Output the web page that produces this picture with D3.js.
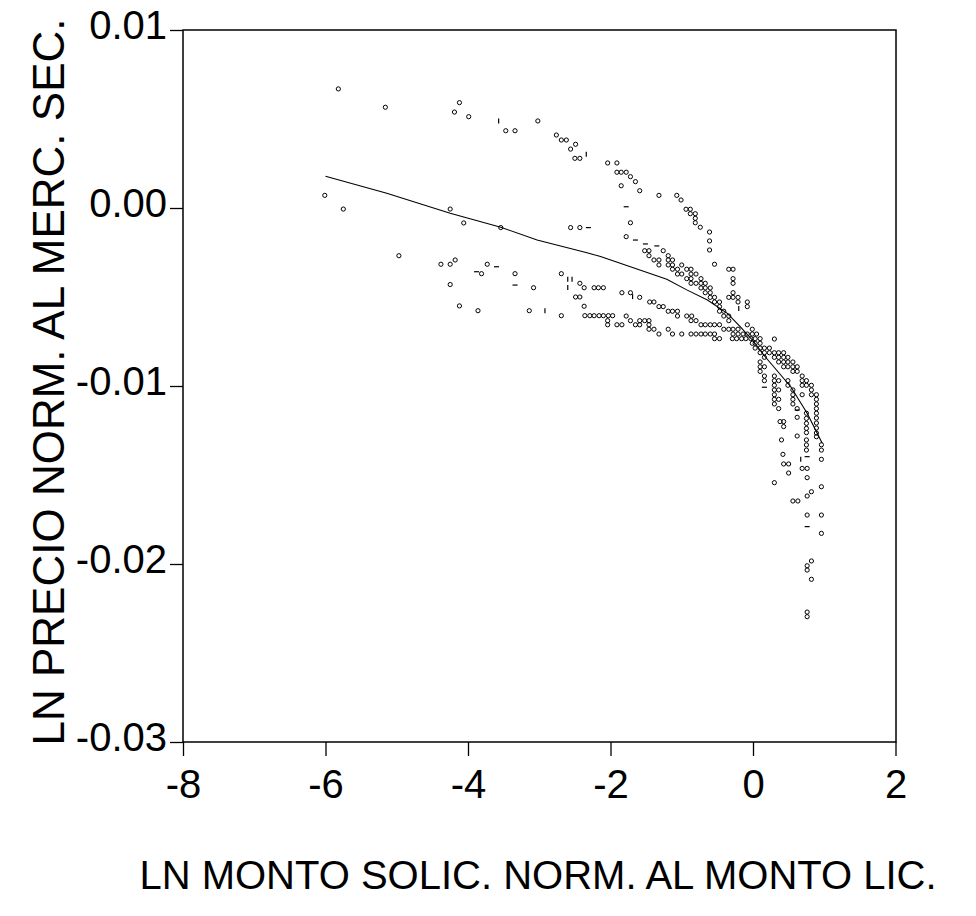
<!DOCTYPE html>
<html lang="es">
<head>
<meta charset="UTF-8">
<title>LN precio vs LN monto</title>
<script src="https://cdn.jsdelivr.net/npm/d3@7"></script>
<style>
    body { margin: 0; background: #fff; }
    text.tick-label { font-family: "Liberation Sans", Arial, sans-serif; font-size: 40px; fill: #000; }
    text.axis-title { font-family: "Liberation Sans", Arial, sans-serif; font-size: 40px; fill: #000; }
    text.axis-title-y { font-family: "Liberation Sans", Arial, sans-serif; font-size: 44px; fill: #000; }
</style>
</head>
<body>
<div id="chart"></div>
<script>
// axis ticks
var xTicks = [-8, -6, -4, -2, 0, 2];
var xTickLabels = ["-8", "-6", "-4", "-2", "0", "2"];
var yTicks = [0.01, 0.00, -0.01, -0.02, -0.03];
var yTickLabels = ["0.01", "0.00", "-0.01", "-0.02", "-0.03"];

var xTitle = "LN MONTO SOLIC. NORM. AL MONTO LIC.";
var yTitle = "LN PRECIO NORM. AL MERC. SEC.";

// observations [ln monto, ln precio]
var upperBand = [
    [-6.01, 0.00071], [-5.82, 0.00669], [-5.75, -0.00006], [-5.16, 0.00566],
    [-4.19, 0.00539], [-4.12, 0.00592], [-3.99, 0.00513], [-3.47, 0.00434],
    [-3.34, 0.00434], [-3.02, 0.00489], [-2.76, 0.0041], [-2.69, 0.00382],
    [-2.62, 0.00382], [-2.49, 0.00358], [-2.56, 0.00331], [-2.50, 0.00279],
    [-2.43, 0.00279], [-2.04, 0.00253], [-1.91, 0.00253], [-1.91, 0.00201],
    [-1.85, 0.00201], [-1.78, 0.00201], [-1.72, 0.00176], [-1.65, 0.00148],
    [-1.85, 0.00125], [-1.59, 0.00097], [-1.32, 0.00071], [-1.07, 0.00071],
    [-1.01, 0.00045], [-0.94, -0.00007], [-0.88, -0.00007], [-0.88, -0.00032],
    [-0.81, -0.00032], [-0.81, -0.00058], [-0.81, -0.00083], [-0.74, -0.00108],
    [-0.61, -0.00135], [-0.61, -0.00185], [-0.61, -0.00236], [-0.54, -0.00316]
];

var lowerLeft = [
    [-4.25, -0.00006], [-4.06, -0.00084], [-3.54, -0.0011], [-2.56, -0.0011],
    [-2.43, -0.0011], [-1.72, -0.00083], [-1.78, -0.00161], [-4.97, -0.00268],
    [-4.38, -0.00316], [-4.25, -0.00316], [-4.18, -0.00292], [-4.25, -0.0043],
    [-4.12, -0.0055], [-3.86, -0.00577], [-3.73, -0.00316], [-3.81, -0.00369],
    [-3.34, -0.00369], [-3.08, -0.00448], [-3.14, -0.00577], [-2.69, -0.00369],
    [-2.43, -0.00423], [-2.37, -0.00448], [-2.23, -0.00448], [-2.17, -0.00448],
    [-2.10, -0.00448], [-2.49, -0.005], [-2.43, -0.005], [-2.37, -0.00552],
    [-2.69, -0.00605], [-2.36, -0.00605], [-2.29, -0.00605], [-2.23, -0.00605],
    [-2.16, -0.00605], [-2.10, -0.00605], [-2.03, -0.00605], [-1.97, -0.00605]
];

var middleBand = [
    [-1.52, -0.0024], [-1.46, -0.0024], [-1.26, -0.0024],
    [-1.46, -0.00268], [-1.19, -0.00268],
    [-1.39, -0.00292], [-1.32, -0.00292], [-1.19, -0.00292], [-1.13, -0.00292],
    [-1.32, -0.0032], [-1.19, -0.0032], [-1.13, -0.0032], [-1.00, -0.0032],
    [-1.13, -0.00344], [-1.06, -0.00344], [-0.93, -0.00344], [-0.87, -0.00344], [-0.34, -0.00344], [-0.28, -0.00344],
    [-1.06, -0.00371], [-1.00, -0.00371], [-0.87, -0.00371], [-0.80, -0.00371],
    [-0.93, -0.00397], [-0.87, -0.00397], [-0.73, -0.00397], [-0.28, -0.00397],
    [-0.87, -0.00423], [-0.80, -0.00423], [-0.73, -0.00423], [-0.67, -0.00423], [-0.28, -0.00423],
    [-0.73, -0.00449], [-0.67, -0.00449], [-0.60, -0.00449],
    [-1.84, -0.00476], [-1.72, -0.00476], [-0.67, -0.00476], [-0.60, -0.00476], [-0.28, -0.00476],
    [-1.59, -0.00502], [-0.60, -0.00502], [-0.54, -0.00502], [-0.34, -0.00502], [-0.28, -0.00502], [-0.21, -0.00502],
    [-1.45, -0.00528], [-1.39, -0.00528], [-0.54, -0.00528], [-0.47, -0.00528], [-0.21, -0.00528], [-0.08, -0.00528],
    [-1.32, -0.00554], [-1.26, -0.00554], [-0.47, -0.00554], [-0.08, -0.00554],
    [-1.19, -0.0058], [-1.13, -0.0058], [-1.06, -0.0058], [-0.47, -0.0058], [-0.41, -0.0058],
    [-1.78, -0.00607], [-1.06, -0.00607], [-0.93, -0.00607], [-0.86, -0.00607], [-0.41, -0.00607], [-0.34, -0.00607],
    [-2.04, -0.00633], [-1.72, -0.00633], [-1.59, -0.00633], [-1.52, -0.00633], [-1.46, -0.00633],
    [-0.87, -0.00633], [-0.80, -0.00633], [-0.34, -0.00633],
    [-2.04, -0.00656], [-1.91, -0.00656], [-1.84, -0.00656], [-1.65, -0.00656], [-1.59, -0.00656],
    [-1.46, -0.00656], [-0.73, -0.00656], [-0.67, -0.00656], [-0.60, -0.00656], [-0.54, -0.00656],
    [-0.47, -0.00656], [-0.08, -0.00656],
    [-1.46, -0.00681], [-1.39, -0.00681], [-1.19, -0.00681], [-0.41, -0.00681], [-0.34, -0.00681],
    [-0.28, -0.00681], [-0.21, -0.00681], [-0.01, -0.00681],
    [-1.32, -0.00708], [-1.13, -0.00708], [-1.00, -0.00708], [-0.87, -0.00708], [-0.80, -0.00708],
    [-0.73, -0.00708], [-0.67, -0.00708], [-0.60, -0.00708], [-0.54, -0.00708], [-0.28, -0.00708],
    [-0.21, -0.00708], [-0.14, -0.00708], [-0.08, -0.00708], [-0.01, -0.00708], [0.05, -0.00708],
    [-0.54, -0.00734], [-0.47, -0.00734], [-0.29, -0.00734], [-0.23, -0.00734], [-0.16, -0.00734],
    [-0.10, -0.00734], [-0.03, -0.00734], [0.03, -0.00734], [0.10, -0.00734], [0.30, -0.00736],
    [-0.01, -0.0076], [0.03, -0.0076], [0.10, -0.0076]
];

var rightCluster = [
    [0.03, -0.00787], [0.10, -0.00787], [0.16, -0.00787], [0.23, -0.00787],
    [0.10, -0.00813], [0.16, -0.00813], [0.23, -0.00813], [0.30, -0.00813], [0.36, -0.00813], [0.43, -0.00813],
    [0.16, -0.00839], [0.30, -0.00839], [0.36, -0.00839], [0.43, -0.00839], [0.49, -0.00839],
    [0.10, -0.00865], [0.36, -0.00865], [0.43, -0.00865], [0.49, -0.00865], [0.56, -0.00865],
    [0.10, -0.00892], [0.16, -0.00892], [0.43, -0.00892], [0.49, -0.00892], [0.56, -0.00892], [0.62, -0.00892],
    [0.10, -0.00918], [0.56, -0.00918], [0.62, -0.00918],
    [0.16, -0.00944], [0.30, -0.00944], [0.69, -0.00944],
    [0.16, -0.0097], [0.30, -0.0097], [0.36, -0.0097], [0.49, -0.0097], [0.69, -0.0097], [0.75, -0.0097],
    [0.30, -0.00996], [0.49, -0.00996], [0.69, -0.00996], [0.75, -0.00996], [0.82, -0.00996],
    [0.30, -0.01022], [0.36, -0.01022], [0.56, -0.01022], [0.82, -0.01022],
    [0.30, -0.01049], [0.56, -0.01049], [0.69, -0.01049], [0.82, -0.01049], [0.89, -0.01049],
    [0.30, -0.01075], [0.36, -0.01075], [0.56, -0.01075], [0.89, -0.01075],
    [0.30, -0.01101], [0.56, -0.01101], [0.89, -0.01101],
    [0.36, -0.01127], [0.62, -0.01127], [0.89, -0.01127],
    [0.75, -0.01153], [0.89, -0.01153],
    [0.62, -0.01176], [0.75, -0.01182], [0.89, -0.0118],
    [0.38, -0.0120], [0.43, -0.0120], [0.75, -0.0121], [0.89, -0.01208],
    [0.43, -0.01228], [0.75, -0.01238], [0.89, -0.01236],
    [0.75, -0.01262], [0.89, -0.01264], [0.62, -0.01281], [0.89, -0.01285],
    [0.40, -0.01303], [0.75, -0.01303], [0.75, -0.01331], [0.96, -0.0133],
    [0.75, -0.0136], [0.96, -0.0136], [0.42, -0.01384], [0.96, -0.01412]
];

var lowTail = [
    [0.43, -0.01438], [0.50, -0.01438], [0.50, -0.01489], [0.30, -0.01543],
    [0.69, -0.01463], [0.76, -0.01463], [0.76, -0.01515], [0.96, -0.01566],
    [0.82, -0.01594], [0.76, -0.01618], [0.56, -0.01646], [0.63, -0.01646],
    [0.76, -0.01725], [0.96, -0.01725], [0.96, -0.01828],
    [0.82, -0.01983], [0.76, -0.0201], [0.76, -0.02034], [0.82, -0.02086],
    [0.76, -0.0227], [0.76, -0.02296]
];

// small dash glyphs in the original
var hDashes = [
    [-1.78, 0.00007], [-3.60, -0.0033], [-3.88, -0.00358], [-3.34, -0.00433],
    [-1.51, -0.00202], [-1.35, -0.00213], [-1.65, -0.0018], [-2.31, -0.0011],
    [0.16, -0.01007], [0.62, -0.01135], [0.76, -0.01397], [0.76, -0.0179]
];
var vDashes = [
    [-3.57, 0.00489], [-2.34, 0.00302], [-2.60, -0.004], [-2.54, -0.004],
    [-2.60, -0.00446], [-2.92, -0.00577], [-0.20, -0.00564], [0.67, -0.01412],
    [-1.69, -0.00498]
];

// fitted curve
var fitX = [-6.0, -5.14, -4.25, -3.54, -3.03, -2.33, -2.14, -1.21, -0.93, -0.64, -0.36, -0.18, 0.01, 0.15, 0.53, 0.76, 0.97];
var fitY = [0.00178, 0.00083, -0.0003, -0.00108, -0.0018, -0.00251, -0.00273, -0.004, -0.0046, -0.00517, -0.00592, -0.00667, -0.0075, -0.00826, -0.01004, -0.01153, -0.0132];

var W = 976, H = 916;
var plot = {left: 183, right: 896, top: 30, bottom: 742};

var svg = d3.select("#chart").append("svg")
    .attr("width", W)
    .attr("height", H);

svg.append("rect").attr("width", W).attr("height", H).attr("fill", "#fff");

var x = d3.scaleLinear().domain([-8, 2]).range([plot.left, plot.right - 0.5]);
var y = d3.scaleLinear().domain([-0.03, 0.01]).range([plot.bottom, plot.top]);

// frame
svg.append("rect")
    .attr("x", plot.left)
    .attr("y", plot.top)
    .attr("width", plot.right - plot.left)
    .attr("height", plot.bottom - plot.top)
    .attr("fill", "none")
    .attr("stroke", "#000")
    .attr("stroke-width", 1.5);

// x axis
var gx = svg.append("g")
    .attr("transform", "translate(0," + plot.bottom + ")")
    .call(d3.axisBottom(x).tickValues(xTicks).tickSize(14).tickPadding(14)
        .tickFormat(function (d, i) { return xTickLabels[i]; }));
gx.select(".domain").remove();
gx.selectAll(".tick line").attr("stroke", "#000").attr("stroke-width", 1.3);
gx.selectAll(".tick text").attr("class", "tick-label").attr("font-size", null).attr("font-family", null).attr("dy", "0.71em");

// y axis
var gy = svg.append("g")
    .attr("transform", "translate(" + plot.left + ",0)")
    .call(d3.axisLeft(y).tickValues(yTicks).tickSize(13).tickPadding(3)
        .tickFormat(function (d, i) { return yTickLabels[i]; }));
gy.select(".domain").remove();
gy.selectAll(".tick line").attr("stroke", "#000").attr("stroke-width", 1.3);
gy.selectAll(".tick text").attr("class", "tick-label").attr("font-size", null).attr("font-family", null).attr("dy", "0.2em");

// titles
svg.append("text")
    .attr("class", "axis-title")
    .attr("x", 538)
    .attr("y", 889)
    .attr("text-anchor", "middle")
    .text(xTitle);

svg.append("text")
    .attr("class", "axis-title-y")
    .attr("transform", "translate(64,382) rotate(-90)")
    .attr("text-anchor", "middle")
    .text(yTitle);

// fitted line
var line = d3.line()
    .x(function (d) { return x(d[0]); })
    .y(function (d) { return y(d[1]); });

svg.append("path")
    .datum(fitX.map(function (v, i) { return [v, fitY[i]]; }))
    .attr("fill", "none")
    .attr("stroke", "#000")
    .attr("stroke-width", 1.1)
    .attr("d", line);

// scatter
var allPts = upperBand.concat(lowerLeft, middleBand, rightCluster, lowTail);
svg.append("g").selectAll("circle")
    .data(allPts)
    .enter().append("circle")
    .attr("cx", function (d) { return x(d[0]); })
    .attr("cy", function (d) { return y(d[1]); })
    .attr("r", 2.1)
    .attr("fill", "none")
    .attr("stroke", "#000")
    .attr("stroke-width", 1);

svg.append("g").selectAll("line")
    .data(hDashes)
    .enter().append("line")
    .attr("x1", function (d) { return x(d[0]) - 2.5; })
    .attr("x2", function (d) { return x(d[0]) + 2.5; })
    .attr("y1", function (d) { return y(d[1]); })
    .attr("y2", function (d) { return y(d[1]); })
    .attr("stroke", "#000")
    .attr("stroke-width", 1.2);

svg.append("g").selectAll("line")
    .data(vDashes)
    .enter().append("line")
    .attr("x1", function (d) { return x(d[0]); })
    .attr("x2", function (d) { return x(d[0]); })
    .attr("y1", function (d) { return y(d[1]) - 2.5; })
    .attr("y2", function (d) { return y(d[1]) + 2.5; })
    .attr("stroke", "#000")
    .attr("stroke-width", 1.2);
</script>
</body>
</html>
